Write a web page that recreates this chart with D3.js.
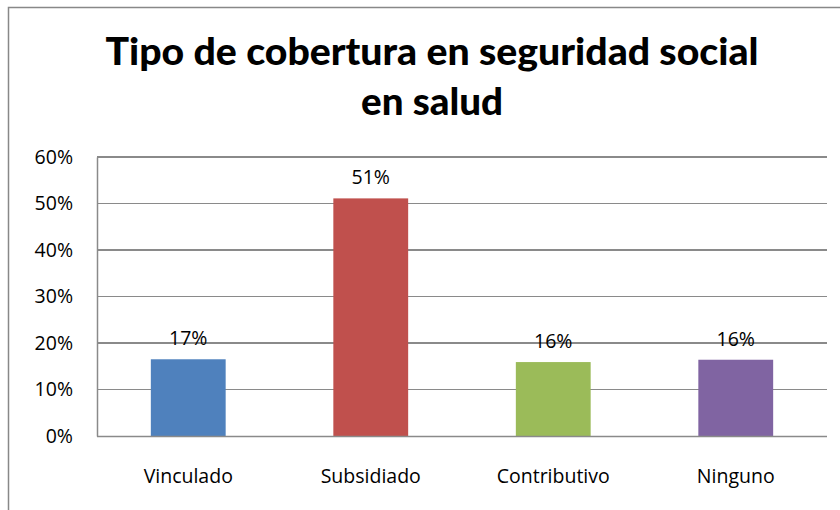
<!DOCTYPE html>
<html><head><meta charset="utf-8">
<script src="https://cdn.jsdelivr.net/npm/d3@7"></script>
<style>body{margin:0;background:#fff}svg{display:block}</style>
</head><body><svg id="c" width="840" height="510"></svg>
<script>
const categories = ["Vinculado","Subsidiado","Contributivo","Ninguno"];
const values = [0.165, 0.511, 0.159, 0.164];
const colors = ["#4f81bd","#c0504d","#9bbb59","#8064a2"];
const yTicks = [0,0.1,0.2,0.3,0.4,0.5,0.6];
const titleLines = ["Tipo de cobertura en seguridad social","en salud"];

const svg = d3.select("#c");
const font = "'Open Sans', sans-serif";
const tfont = "Lato, 'Open Sans', sans-serif";
const fs = "19.5px";
// outer frame (top and left visible)
svg.append("path").attr("d","M8.5,510 V7.5 H840").attr("fill","none").attr("stroke","#888").attr("stroke-width",1.5);

const m = {l:97, r:827, t:157, b:436};
const x = d3.scaleBand().domain(categories).range([m.l,m.r]).paddingInner(0.59).paddingOuter(0.295);
const y = d3.scaleLinear().domain([0,0.6]).range([m.b,m.t]);

// gridlines
svg.append("g").selectAll("line").data(yTicks.slice(1)).join("line")
  .attr("x1",m.l).attr("x2",m.r).attr("y1",d=>y(d)).attr("y2",d=>y(d))
  .attr("stroke","#8a8a8a").attr("stroke-width",1.2).attr("shape-rendering","crispEdges");

// bars
svg.append("g").selectAll("rect").data(values).join("rect")
  .attr("x",(d,i)=>x(categories[i])).attr("width",x.bandwidth())
  .attr("y",d=>y(d)).attr("height",d=>y(0)-y(d)).attr("fill",(d,i)=>colors[i]);

// y axis
const ya = svg.append("g").attr("transform",`translate(${m.l},0)`)
  .call(d3.axisLeft(y).tickValues(yTicks).tickFormat(d3.format(".0%")).tickSize(0).tickPadding(24));
ya.select(".domain").attr("stroke","#8a8a8a").attr("stroke-width",1.5);
ya.selectAll("text").attr("font-family",font).attr("font-size",fs).attr("fill","#000");

// x axis
const xa = svg.append("g").attr("transform",`translate(0,${m.b})`)
  .call(d3.axisBottom(x).tickSize(0).tickPadding(33));
xa.select(".domain").attr("stroke","#8a8a8a").attr("stroke-width",1.5).attr("d",`M${m.l},0.5H${m.r}`);
xa.selectAll("text").attr("font-family",font).attr("font-size",fs).attr("fill","#000");

// data labels
svg.append("g").selectAll("text").data(values).join("text")
  .attr("x",(d,i)=>x(categories[i])+x.bandwidth()/2).attr("y",d=>y(d)-14)
  .attr("text-anchor","middle").attr("font-family",font).attr("font-size",fs).attr("fill","#000")
  .text(d=>d3.format(".0%")(d));

// title
const tw = [653, 142];
svg.append("g").selectAll("text").data(titleLines).join("text")
  .attr("x",432).attr("y",(d,i)=>65+i*50).attr("text-anchor","middle")
  .attr("font-family",tfont).attr("font-weight","900").attr("font-size","38px").attr("fill","#000")
  .attr("textLength",(d,i)=>tw[i]).attr("lengthAdjust","spacingAndGlyphs")
  .text(d=>d);
</script></body></html>
